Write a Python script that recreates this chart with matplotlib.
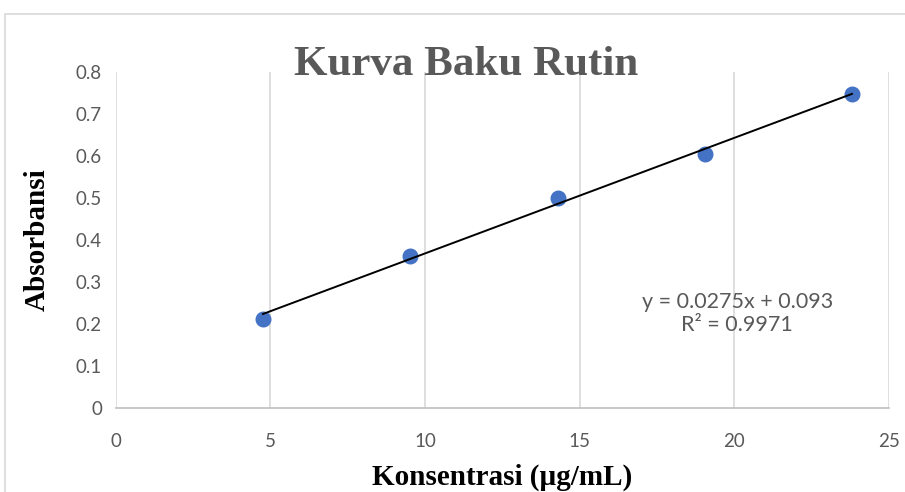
import numpy as np
import matplotlib
matplotlib.use('Agg')
import matplotlib.pyplot as plt
from matplotlib.patches import Rectangle

# data
konsentrasi = [4.76, 9.52, 14.29, 19.05, 23.81]
absorbansi = [0.213, 0.361, 0.500, 0.605, 0.748]
slope = 0.0275
intercept = 0.093
r2 = 0.9971

x_ticks = [0, 5, 10, 15, 20, 25]
y_ticks = [0, 0.1, 0.2, 0.3, 0.4, 0.5, 0.6, 0.7, 0.8]

fig = plt.figure(figsize=(9.05, 4.92), dpi=100)
ax = fig.add_axes([0.128, 0.1707, 0.854, 0.683])

# outer chart frame like excel
fig.patches.append(Rectangle((5 / 905, -0.1), 1.1, 1 - 14 / 492 + 0.1,
                             transform=fig.transFigure, fill=False,
                             edgecolor='#d9d9d9', linewidth=1.2))

ax.set_xlim(0, 25)
ax.set_ylim(0, 0.8)
ax.set_xticks(x_ticks)
ax.set_yticks(y_ticks)
ax.set_yticklabels(['0' if v == 0 else '%.1f' % v for v in y_ticks])
ax.grid(axis='x', color='#d9d9d9', linewidth=1.2)
ax.set_axisbelow(True)
for s in ['top', 'right', 'left']:
    ax.spines[s].set_visible(False)
ax.spines['bottom'].set_color('#bfbfbf')
ax.spines['bottom'].set_linewidth(1.2)
ax.tick_params(length=0, labelsize=13.5, labelcolor='#595959', pad=10)
ax.tick_params(axis='x', pad=18)
for lab in ax.get_xticklabels() + ax.get_yticklabels():
    lab.set_family('Lato')

ax.scatter(konsentrasi, absorbansi, s=110, color='#4472c4', zorder=3)
xs = np.array([konsentrasi[0], konsentrasi[-1]])
ax.plot(xs, slope * xs + intercept, color='black', linewidth=1.4, zorder=4)

ax.text(20.1, 0.225, 'y = %.4fx + %.3f\nR² = %.4f' % (slope, intercept, r2),
        ha='center', va='center', fontsize=15.5, color='#595959',
        family='Lato', linespacing=1.15)

fig.text(0.515, 0.848, 'Kurva Baku Rutin', ha='center', va='baseline',
         fontsize=31, fontweight='bold', color='#595959', family='Liberation Serif')
ax.set_xlabel('Konsentrasi (µg/mL)', fontsize=21, fontweight='bold',
              family='Liberation Serif', labelpad=10)
ax.set_ylabel('Absorbansi', fontsize=21, fontweight='bold',
              family='Liberation Serif', labelpad=18)

fig.savefig('out.png', dpi=100)
